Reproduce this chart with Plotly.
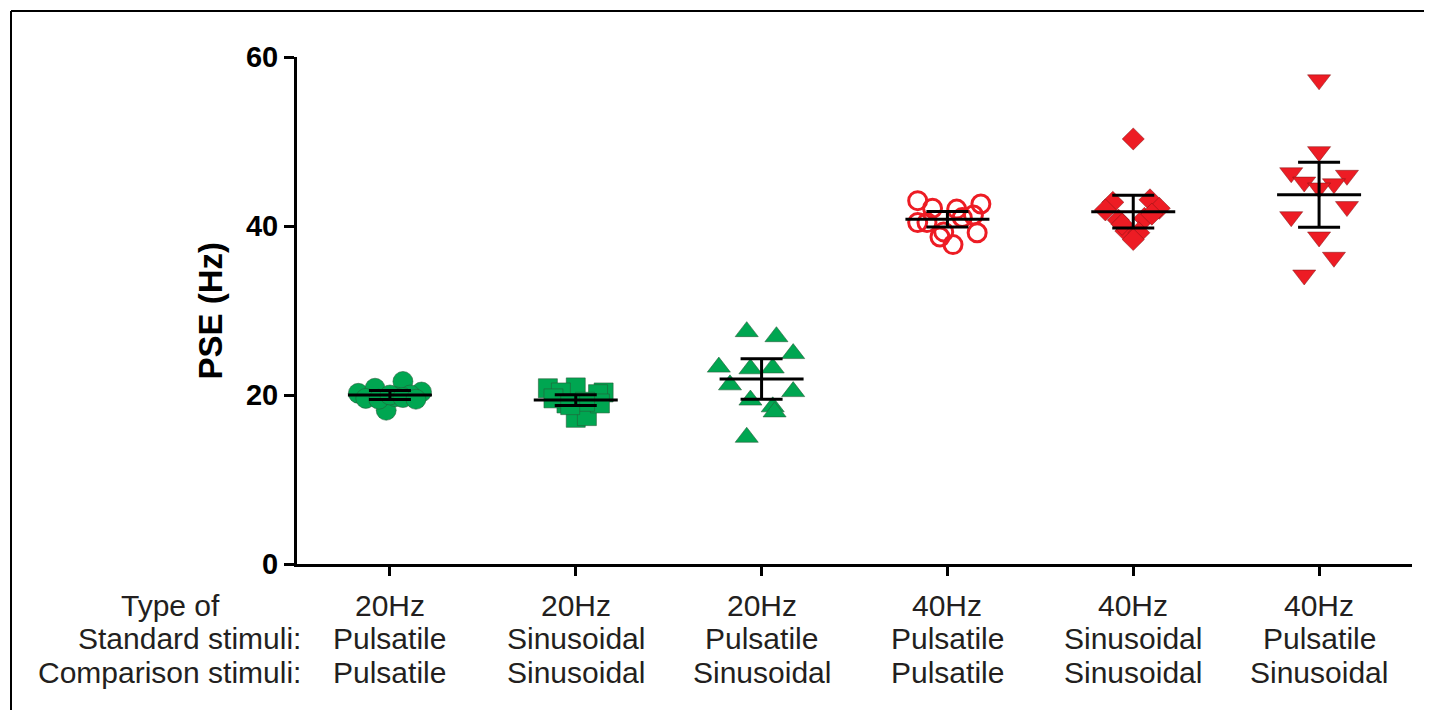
import plotly.graph_objects as go

# ---------------- data ----------------
groups = ["20Hz Pulsatile Pulsatile", "20Hz Sinusoidal Sinusoidal", "20Hz Pulsatile Sinusoidal",
          "40Hz Pulsatile Pulsatile", "40Hz Sinusoidal Sinusoidal", "40Hz Pulsatile Sinusoidal"]
row1 = ["20Hz", "20Hz", "20Hz", "40Hz", "40Hz", "40Hz"]
row2 = ["Pulsatile", "Sinusoidal", "Pulsatile", "Pulsatile", "Sinusoidal", "Pulsatile"]
row3 = ["Pulsatile", "Sinusoidal", "Sinusoidal", "Pulsatile", "Sinusoidal", "Sinusoidal"]
row_heads = ["Type of", "Standard stimuli:", "Comparison stimuli:"]

g1_vals = [20.2, 20.8, 21.6, 20.35, 18.2, 19.6, 19.8, 20.0, 19.5, 20.0, 19.7, 19.5]
g1_jit = [-0.17, -0.08, 0.07, 0.17, -0.02, -0.13, 0.03, 0.11, -0.06, 0.0, 0.07, 0.14]
g2_vals = [20.8, 20.9, 20.3, 17.3, 17.5, 20.3, 20.1, 19.0, 19.0, 19.6, 19.2, 18.8]
g2_jit = [-0.15, 0.0, 0.15, 0.0, 0.06, -0.08, 0.12, -0.05, 0.13, -0.12, 0.05, -0.03]
g3_vals = [27.5, 26.9, 24.9, 23.3, 23.1, 23.2, 21.2, 20.4, 19.4, 18.6, 18.0, 15.0]
g3_jit = [-0.08, 0.08, 0.17, -0.23, -0.06, 0.06, -0.17, 0.17, -0.06, 0.06, 0.07, -0.08]
g4_vals = [43.0, 42.6, 42.1, 42.0, 41.3, 40.4, 41.0, 40.4, 39.3, 38.7, 37.8, 39.2]
g4_jit = [-0.16, 0.18, -0.08, 0.05, 0.14, -0.16, 0.08, -0.11, -0.02, -0.04, 0.03, 0.16]
g5_vals = [50.3, 42.8, 43.1, 41.9, 42.1, 40.7, 40.9, 39.4, 39.2, 38.4, 40.2, 41.4]
g5_jit = [0.0, -0.11, 0.09, -0.15, 0.14, -0.08, 0.06, -0.04, 0.03, 0.0, -0.06, 0.1]
g6_vals = [57.3, 48.8, 46.3, 46.0, 45.2, 45.0, 44.5, 42.3, 41.1, 38.7, 36.3, 34.2]
g6_jit = [0.0, 0.0, -0.15, 0.15, -0.08, 0.08, 0.0, 0.15, -0.15, 0.0, 0.08, -0.08]

means = [20.0, 19.4, 21.9, 40.8, 41.7, 43.7]
errs = [0.53, 0.63, 2.4, 0.92, 1.95, 3.85]

y_ticks = [0, 20, 40, 60]

# ---------------- styles ----------------
GREEN = "#00A651"
RED = "#ED1C24"
edge_g = dict(color="rgba(40,90,55,0.7)", width=0.8)
edge_r = dict(color="rgba(120,20,20,0.6)", width=0.8)

series = [
    (g1_vals, g1_jit, dict(symbol="circle", size=20, color=GREEN, line=edge_g)),
    (g2_vals, g2_jit, dict(symbol="square", size=19, color=GREEN, line=edge_g)),
    (g3_vals, g3_jit, dict(symbol="triangle-up", size=20, color=GREEN, line=edge_g)),
    (g4_vals, g4_jit, dict(symbol="circle-open", size=18, color=RED, line=dict(color=RED, width=3))),
    (g5_vals, g5_jit, dict(symbol="diamond", size=17, color=RED, line=edge_r)),
    (g6_vals, g6_jit, dict(symbol="triangle-down", size=20, color=RED, line=edge_r)),
]

fig = go.Figure()
for i, (vals, jit, mk) in enumerate(series):
    fig.add_trace(go.Scatter(
        x=[i + j for j in jit], y=vals, mode="markers", marker=mk,
        showlegend=False, cliponaxis=False, name=groups[i]))

MEAN_HALF = 0.226
fig.add_trace(go.Scatter(
    x=list(range(len(means))), y=means, mode="markers",
    marker=dict(size=1, color="rgba(0,0,0,0)"),
    error_y=dict(type="data", array=errs, symmetric=True, color="black", thickness=3, width=21),
    error_x=dict(type="data", array=[MEAN_HALF] * len(means), symmetric=True, color="black", thickness=3, width=0),
    showlegend=False, cliponaxis=False))

FONT = "Liberation Sans, Arial, Helvetica, sans-serif"
TXT = "#231F20"

annotations = []
for i in range(len(groups)):
    for k, rows in enumerate([row1, row2, row3]):
        annotations.append(dict(x=i, xref="x", xanchor="center", y=0, yref="paper", yanchor="middle",
                                yshift=-(41 + 33.5 * k), text=rows[i], showarrow=False,
                                font=dict(family=FONT, size=30, color=TXT)))
head_right = [-0.0673, 0.0054, 0.0054]
for k, t in enumerate(row_heads):
    annotations.append(dict(x=head_right[k], xref="paper", xanchor="right", y=0, yref="paper",
                            yanchor="middle", yshift=-(41 + 33.5 * k), text=t, showarrow=False,
                            font=dict(family=FONT, size=30, color=TXT)))
annotations.append(dict(x=-0.078, xref="paper", xanchor="center", y=0.5, yref="paper",
                        yanchor="middle", text="<b>PSE (Hz)</b>",
                        textangle=-90, showarrow=False, font=dict(family=FONT, size=33, color="black")))

fig.update_layout(
    width=1424, height=702,
    margin=dict(l=289, r=20, t=49, b=146),
    paper_bgcolor="white", plot_bgcolor="white",
    annotations=annotations,
    shapes=[
        dict(type="line", xref="paper", yref="paper", x0=-0.2565, x1=1.0185, y0=1.0907, y1=1.0907,
             line=dict(color="black", width=2)),
        dict(type="line", xref="paper", yref="paper", x0=-0.2565, x1=-0.2565, y0=1.0907, y1=-0.29,
             line=dict(color="black", width=2)),
    ],
)
fig.update_xaxes(range=[-0.5, 5.5], tickvals=list(range(6)), ticktext=[""] * 6,
                 showticklabels=False, ticks="outside", ticklen=9, tickwidth=3, tickcolor="black",
                 showline=True, linewidth=3, linecolor="black", showgrid=False, zeroline=False)
fig.update_yaxes(range=[0, 60], tickvals=y_ticks, ticktext=[f"<b>{v}</b>" for v in y_ticks],
                 ticks="outside", ticklen=10, tickwidth=3, tickcolor="black",
                 tickfont=dict(family=FONT, size=29, color="black"),
                 showline=True, linewidth=3, linecolor="black", showgrid=False, zeroline=False)

fig.write_html("out.html")
